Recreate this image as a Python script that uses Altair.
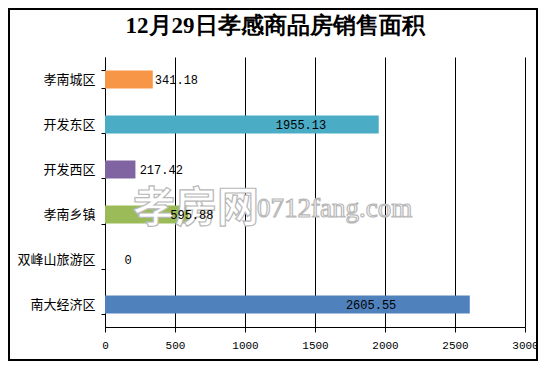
import altair as alt
import pandas as pd

categories = ["孝南城区", "开发东区", "开发西区", "孝南乡镇", "双峰山旅游区", "南大经济区"]
values = [341.18, 1955.13, 217.42, 595.88, 0, 2605.55]
labels = ["341.18", "1955.13", "217.42", "595.88", "0", "2605.55"]
colors = ["#F79646", "#4BACC6", "#8064A2", "#9BBB59", "#C0504D", "#4F81BD"]
# label anchor offsets from bar end (data units)
label_offset = [15, -735, 30, -130, 140, -885]
x_ticks = [0, 500, 1000, 1500, 2000, 2500, 3000]
title_text = "12月29日孝感商品房销售面积"

df = pd.DataFrame({
    "cat": categories,
    "value": values,
    "label": labels,
    "color": colors,
})
df["label_x"] = [v + o for v, o in zip(values, label_offset)]

W, H = 420, 270

y_enc = alt.Y("cat:N", sort=categories, title=None,
              scale=alt.Scale(paddingInner=0.6, paddingOuter=0.3),
              axis=alt.Axis(labelFont="Noto Sans CJK SC", labelFontSize=13,
                            labelColor="#000", tickColor="#000", domainColor="#000",
                            tickSize=4, labelPadding=6, tickBand="extent"))

bars = alt.Chart(df).mark_bar(size=18).encode(
    x=alt.X("value:Q", title=None,
            scale=alt.Scale(domain=[0, 3000], nice=False),
            axis=alt.Axis(values=x_ticks, grid=True, gridColor="#000", gridOpacity=1,
                          format="d",
                          labelFont="Liberation Mono", labelFontSize=11, labelColor="#000",
                          tickColor="#000", domainColor="#000", tickSize=5,
                          labelPadding=7, labelFlush=False)),
    y=y_enc,
    color=alt.Color("color:N", scale=None),
)

text = alt.Chart(df).mark_text(align="left", baseline="middle",
                               font="Liberation Mono", fontSize=12, color="#000").encode(
    x=alt.X("label_x:Q"),
    y=alt.Y("cat:N", sort=categories),
    text="label:N",
)

wm_df = pd.DataFrame({"t": ["孝房网"], "u": ["0712fang.com"], "title": [title_text]})
wm1 = alt.Chart(wm_df).mark_text(align="left", baseline="middle", font="Noto Sans CJK SC",
                                 fontSize=42, fontWeight="bold", fill="#ffffff",
                                 stroke="#b8b8b8", strokeWidth=1.2).encode(
    x=alt.value(28), y=alt.value(152), text="t:N")
wm2 = alt.Chart(wm_df).mark_text(align="left", baseline="middle", font="Liberation Serif",
                                 fontSize=27, fill="#ffffff",
                                 stroke="#b8b8b8", strokeWidth=1.2).encode(
    x=alt.value(152), y=alt.value(152), text="u:N")

title = alt.Chart(wm_df).mark_text(align="center", baseline="middle", font="Liberation Serif",
                                   fontSize=23, fontWeight="bold", color="#000").encode(
    x=alt.value(170), y=alt.value(-31), text="title:N")

frame = alt.Chart(wm_df).mark_rect(fill="transparent", stroke="#000", strokeWidth=2).encode(
    x=alt.value(-96), x2=alt.value(432), y=alt.value(-48), y2=alt.value(303))

chart = alt.layer(bars, wm1, wm2, text, title, frame).properties(
    width=W, height=H,
    autosize=alt.AutoSizeParams(type="none"),
    padding={"left": 97, "top": 49, "right": 13, "bottom": 34},
).configure_view(stroke="transparent")

chart.save("out.html", embed_options={"renderer": "svg", "actions": False})
